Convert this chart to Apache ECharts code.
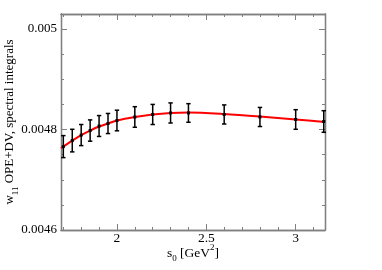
<!DOCTYPE html>
<html><head><meta charset="utf-8">
<script src="https://cdn.jsdelivr.net/npm/echarts@6/dist/echarts.min.js"></script>
<style>html,body{margin:0;padding:0;background:#fff}#c{width:382px;height:270px}</style>
</head><body><div id="c"></div>
<script>
// data points (s0, value, symmetric error)
const s0Points = [1.70, 1.75, 1.80, 1.85, 1.90, 1.95, 2.00, 2.10, 2.20, 2.30, 2.40, 2.60, 2.80, 3.00, 3.157];
const wPoints = [0.004766, 0.004778, 0.004789, 0.004798, 0.004807, 0.004812, 0.004818, 0.004825, 0.004830, 0.004833, 0.004833, 0.004830, 0.004825, 0.004820, 0.004816];
const wErrors = [0.0000219, 0.0000225, 0.0000210, 0.0000212, 0.0000208, 0.0000200, 0.0000205, 0.0000205, 0.0000200, 0.0000200, 0.0000185, 0.0000190, 0.0000190, 0.0000195, 0.0000215];
// fitted curve (red)
const s0Curve = [1.687, 1.75, 1.80, 1.85, 1.90, 1.95, 2.00, 2.10, 2.20, 2.30, 2.40, 2.60, 2.80, 3.00, 3.164];
const wCurve = [0.004763, 0.004778, 0.004789, 0.004798, 0.004806, 0.004812, 0.004818, 0.004825, 0.004830, 0.004833, 0.004834, 0.004831, 0.004826, 0.004820, 0.004815];
// axes
const xMajor = [2, 2.5, 3];
const xMinor = [1.7, 1.8, 1.9, 2.1, 2.2, 2.3, 2.4, 2.6, 2.7, 2.8, 2.9, 3.1];
const yMajor = [0.0046, 0.0048, 0.005];
const yMinor = [0.00465, 0.0047, 0.00475, 0.00485, 0.0049, 0.00495];
const yLabels = ['0.0046', '0.0048', '0.005'];
const xMin = 1.687, xMax = 3.164, yMin = 0.0046, yMax = 0.00503;

const FONT = 'Liberation Serif';
const axisColor = '#808080';
function xAx(pos, ticks, len, showLabel, extra) {
  return Object.assign({
    type: 'value', position: pos, min: xMin, max: xMax, offset: 0,
    axisLine: {show: true, onZero: false, lineStyle: {color: axisColor, width: 1.3}},
    axisTick: {show: true, inside: true, length: len, customValues: ticks, lineStyle: {color: axisColor, width: 1}},
    axisLabel: showLabel ? {show: true, customValues: xMajor, formatter: v => String(v), color: '#000', fontFamily: FONT, fontSize: 13.5, margin: 1} : {show: false},
    splitLine: {show: false}
  }, extra || {});
}
function yAx(pos, ticks, len, showLabel, extra) {
  return Object.assign({
    type: 'value', position: pos, min: yMin, max: yMax, offset: 0,
    axisLine: {show: true, onZero: false, lineStyle: {color: axisColor, width: 1.3}},
    axisTick: {show: true, inside: true, length: len, customValues: ticks, lineStyle: {color: axisColor, width: 1}},
    axisLabel: showLabel ? {show: true, customValues: yMajor, formatter: v => yLabels[yMajor.findIndex(m => Math.abs(m - v) < 1e-9)], color: '#000', fontFamily: FONT, fontSize: 13, margin: 4} : {show: false},
    splitLine: {show: false}
  }, extra || {});
}

const chart = echarts.init(document.getElementById('c'), null, {renderer: 'canvas'});
chart.setOption({
  animation: false,
  backgroundColor: '#fff',
  grid: {left: 61, right: 57, top: 14, bottom: 40, containLabel: false, outerBoundsMode: 'none'},
  xAxis: [
    xAx('bottom', xMajor, 6, true, {
      name: 's{sub|0} [GeV{sup|2}]', nameLocation: 'middle', nameGap: 13, nameMoveOverlap: false,
      nameTextStyle: {color: '#000', fontFamily: FONT, fontSize: 13.5, lineHeight: 20,
        rich: {sub: {fontFamily: FONT, fontSize: 9, verticalAlign: 'bottom', lineHeight: 14},
               sup: {fontFamily: FONT, fontSize: 9, verticalAlign: 'top', lineHeight: 20}}}
    }),
    xAx('bottom', xMinor, 3, false),
    xAx('top', xMajor, 6, false),
    xAx('top', xMinor, 3, false)
  ],
  yAxis: [
    yAx('left', yMajor, 6, true, {
      name: 'w{sub|11} OPE+DV, spectral integrals', nameLocation: 'middle', nameGap: 41, nameRotate: 90, nameMoveOverlap: false,
      nameTextStyle: {color: '#000', fontFamily: FONT, fontSize: 13, lineHeight: 20,
        rich: {sub: {fontFamily: FONT, fontSize: 9, verticalAlign: 'bottom', lineHeight: 14}}}
    }),
    yAx('left', yMinor, 3, false),
    yAx('right', yMajor, 6, false),
    yAx('right', yMinor, 3, false)
  ],
  series: [
    {
      type: 'line', xAxisIndex: 0, yAxisIndex: 0, smooth: 0.3, symbol: 'none',
      lineStyle: {color: '#ff0000', width: 2}, z: 2,
      data: s0Curve.map((s, i) => [s, wCurve[i]])
    },
    {
      type: 'custom', xAxisIndex: 0, yAxisIndex: 0, z: 3,
      data: s0Points.map((s, i) => [s, wPoints[i], wErrors[i]]),
      renderItem: function (params, api) {
        const x = api.value(0), y = api.value(1), e = api.value(2);
        const c = api.coord([x, y]);
        const t = api.coord([x, y + e]);
        const b = api.coord([x, y - e]);
        const st = {stroke: '#000', lineWidth: 1.5};
        const cw = 2.2;
        return {
          type: 'group',
          children: [
            {type: 'line', shape: {x1: c[0], y1: t[1], x2: c[0], y2: b[1]}, style: st},
            {type: 'line', shape: {x1: c[0] - cw, y1: t[1], x2: c[0] + cw, y2: t[1]}, style: st},
            {type: 'line', shape: {x1: c[0] - cw, y1: b[1], x2: c[0] + cw, y2: b[1]}, style: st},
            {type: 'rect', shape: {x: c[0] - 1.5, y: c[1] - 1.5, width: 3, height: 3}, style: {fill: '#000'}}
          ]
        };
      }
    }
  ]
});
</script>
</body></html>
